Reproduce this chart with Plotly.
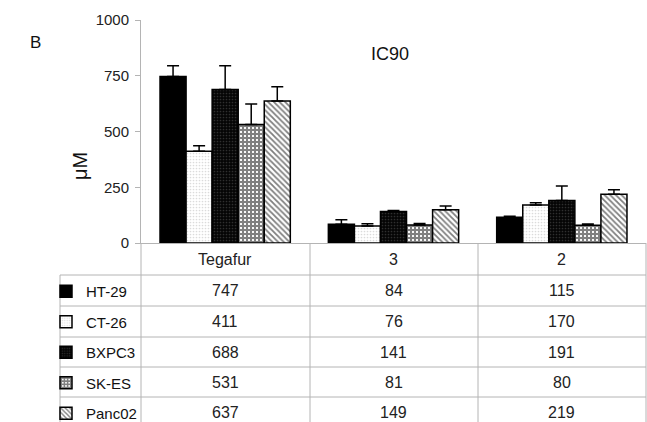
import plotly.graph_objects as go

# IC90 values (uM) per compound and cell line
compounds = ["Tegafur", "3", "2"]
cell_lines = ["HT-29", "CT-26", "BXPC3", "SK-ES", "Panc02"]
ht29 = [747, 84, 115]
ct26 = [411, 76, 170]
bxpc3 = [688, 141, 191]
sk_es = [531, 81, 80]
panc02 = [637, 149, 219]
# upper error (SD)
ht29_err = [48, 20, 5]
ct26_err = [25, 10, 10]
bxpc3_err = [107, 5, 65]
sk_es_err = [92, 7, 5]
panc02_err = [64, 17, 20]
y_ticks = [0, 250, 500, 750, 1000]

series = [ht29, ct26, bxpc3, sk_es, panc02]
errors = [ht29_err, ct26_err, bxpc3_err, sk_es_err, panc02_err]

W, H = 647, 422
L, R, T, B = 141, 1, 20, 179
PW, PH = W - L - R, H - T - B

def px(x):
    return (x - L) / PW

def py(y):
    return (H - B - y) / PH

patterns = [
    dict(shape="", bgcolor="black", fgcolor="black"),
    dict(shape=".", bgcolor="white", fgcolor="#b8b8b8", size=3, solidity=0.25),
    dict(shape=".", bgcolor="#050505", fgcolor="#5a5a5a", size=3, solidity=0.25),
    dict(shape="+", bgcolor="white", fgcolor="black", size=4, solidity=0.78),
    dict(shape="\\", bgcolor="white", fgcolor="black", size=4, solidity=0.45),
]
base_colors = ["black", "white", "black", "white", "white"]

fig = go.Figure()
for i, (name, vals, err) in enumerate(zip(cell_lines, series, errors)):
    fig.add_trace(go.Bar(
        x=compounds, y=vals, name=name, legendgroup=name,
        marker=dict(color=base_colors[i], pattern=patterns[i],
                    line=dict(color="black", width=1.5)),
        error_y=dict(type="data", array=err, arrayminus=[0] * len(err),
                     symmetric=False, color="black", thickness=1.5, width=6),
    ))

font = "Liberation Sans, Arial, sans-serif"
grey = "#b4b4b4"

shapes = []
def hline(y, x0, x1):
    shapes.append(dict(type="line", xref="paper", yref="paper",
                       x0=px(x0), x1=px(x1), y0=py(y), y1=py(y),
                       line=dict(color=grey, width=1)))
def vline(x, y0, y1):
    shapes.append(dict(type="line", xref="paper", yref="paper",
                       x0=px(x), x1=px(x), y0=py(y0), y1=py(y1),
                       line=dict(color=grey, width=1)))

row_edges = [275, 306, 337, 367, 397, 428]
for y in row_edges:
    hline(y, 60, 646)
vline(60, 275, 428)
vline(141, 243, 428)
for x in [310, 478, 646]:
    vline(x, 243, 428)

annotations = []
# column headers (category axis: position by index)
for ci, c in enumerate(compounds):
    annotations.append(dict(x=ci, xref="x", y=py(259), yref="paper",
                            text=c, showarrow=False,
                            font=dict(size=16, color="#222"),
                            xanchor="center", yanchor="middle"))
# table values
row_centers = [290.5, 321.5, 352, 382, 412.5]
for vals, yc in zip(series, row_centers):
    for ci, v in enumerate(vals):
        annotations.append(dict(x=ci, xref="x", y=py(yc), yref="paper",
                                text=str(v), showarrow=False,
                                font=dict(size=16, color="#222"),
                                xanchor="center", yanchor="middle"))
annotations.append(dict(x=px(390), y=py(42), xref="paper", yref="paper",
                        text="IC90", showarrow=False,
                        font=dict(size=18, color="#111")))
annotations.append(dict(x=px(28), y=py(31), xref="paper", yref="paper",
                        text="B", showarrow=False,
                        font=dict(size=17, color="#111")))
annotations.append(dict(x=px(67), y=py(166), xref="paper", yref="paper",
                        text="μM", showarrow=False, textangle=-90,
                        font=dict(size=20, color="#111")))

fig.update_layout(
    width=W, height=H,
    margin=dict(l=L, r=R, t=T, b=B, pad=0, autoexpand=False),
    paper_bgcolor="white", plot_bgcolor="white",
    font=dict(family=font, color="#222"),
    barmode="group", bargap=0.226, bargroupgap=0,
    showlegend=True,
    legend=dict(x=px(46), y=py(275), xanchor="left", yanchor="top",
                font=dict(size=15, color="#111"), tracegroupgap=8,
                bgcolor="rgba(0,0,0,0)", itemclick=False),
    shapes=shapes, annotations=annotations,
)
fig.update_xaxes(type="category", showticklabels=False, showline=True,
                 linecolor=grey, linewidth=1, ticks="", showgrid=False,
                 zeroline=False, fixedrange=True)
fig.update_yaxes(range=[0, 1000], tickvals=y_ticks, showline=True,
                 linecolor=grey, linewidth=1, ticks="outside", ticklen=5,
                 tickcolor=grey, showgrid=False, zeroline=False,
                 tickfont=dict(size=15, color="#222"), ticklabelstandoff=3,
                 fixedrange=True)

fig.write_html("out.html")
